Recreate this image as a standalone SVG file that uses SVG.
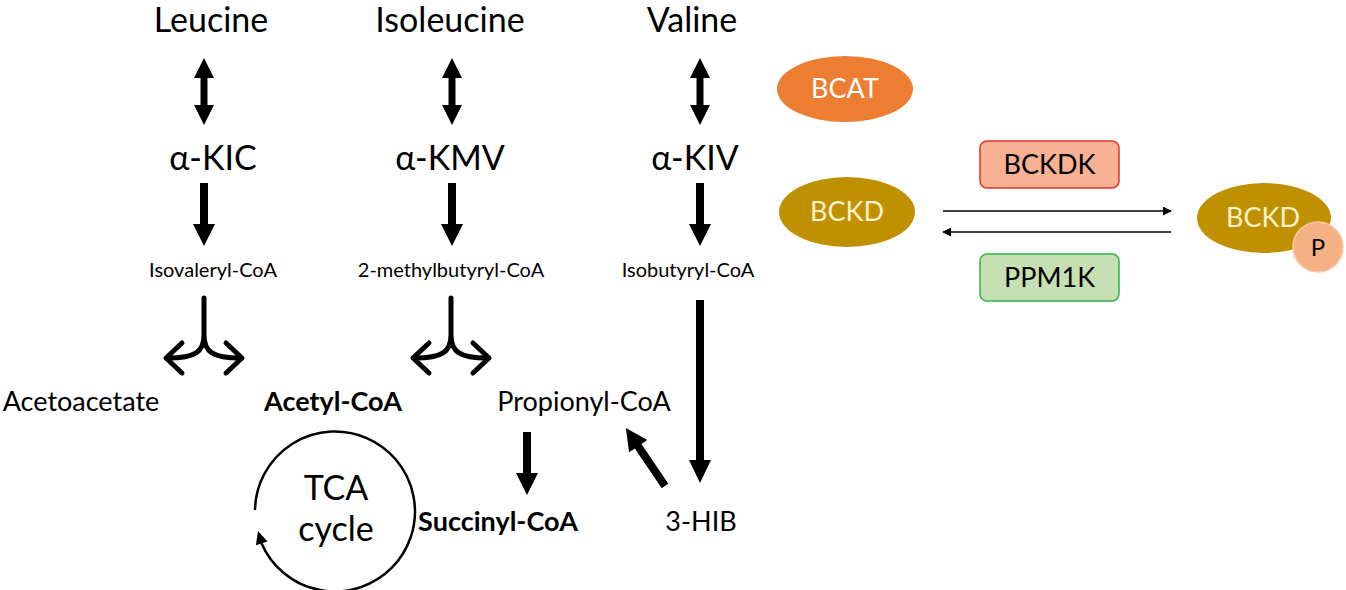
<svg xmlns="http://www.w3.org/2000/svg" width="1346" height="590" viewBox="0 0 1346 590">
<style>
text{font-family:Lato,"Open Sans","Liberation Sans",sans-serif;fill:#000;text-anchor:middle}
.big{font-size:34px}
.sm{font-size:20px}
.mid{font-size:27px}
.b{font-weight:bold}
.enz{font-size:27px}
.blk{fill:#000;stroke:none}
.fork{fill:none;stroke:#000;stroke-width:5;stroke-linecap:round;stroke-linejoin:round}
.thin{fill:none;stroke:#000;stroke-width:1.3}
</style>
<defs>
<polygon id="dbl" points="0,0 10,20 3.5,20 3.5,47 10,47 0,67 -10,47 -3.5,47 -3.5,20 -10,20"/>
<polygon id="down" points="-4,0 4,0 4,41 11,41 0,63 -11,41 -4,41"/>
<marker id="ah" viewBox="0 0 10 10" refX="9" refY="5" markerWidth="9" markerHeight="9" markerUnits="userSpaceOnUse" orient="auto"><path d="M0,0 L10,5 L0,10 z" fill="#000"/></marker>
</defs>
<rect width="1346" height="590" fill="#fff"/>

<g id="leucine"><text class="big" x="211" y="32">Leucine</text></g>
<g id="isoleucine"><text class="big" x="450" y="32">Isoleucine</text></g>
<g id="valine"><text class="big" x="692" y="32">Valine</text></g>
<g id="akic"><text class="big" x="213" y="170">α-KIC</text></g>
<g id="akmv"><text class="big" x="450" y="170">α-KMV</text></g>
<g id="akiv"><text class="big" x="695" y="170">α-KIV</text></g>
<g id="isovaleryl"><text class="sm" x="213" y="277">Isovaleryl-CoA</text></g>
<g id="methylbutyryl"><text class="sm" x="451" y="277">2-methylbutyryl-CoA</text></g>
<g id="isobutyryl"><text class="sm" x="688" y="277">Isobutyryl-CoA</text></g>
<g id="acetoacetate"><text class="mid" x="81" y="411">Acetoacetate</text></g>
<g id="acetylcoa"><text class="mid b" x="333" y="411">Acetyl-CoA</text></g>
<g id="propionylcoa"><text class="mid" x="584" y="411">Propionyl-CoA</text></g>
<g id="succinylcoa"><text class="mid b" x="498" y="531">Succinyl-CoA</text></g>
<g id="hib"><text class="mid" x="701" y="531">3-HIB</text></g>
<g id="tca">
<path class="fork" style="stroke-width:2.5" d="M255,509 A80,80 0 1 1 261.6,543.4"/>
<polygon class="blk" points="258,531 267.5,541.6 255.9,545.2"/>
<text class="big" x="336" y="500">TCA</text>
<text class="big" x="336" y="541">cycle</text>
</g>

<g id="bcat"><ellipse cx="845" cy="89" rx="68" ry="33" fill="#ED7D31"/><text class="enz" x="845" y="98" style="fill:#fff">BCAT</text></g>
<g id="bckd"><ellipse cx="847" cy="212" rx="68" ry="35" fill="#BF9000"/><text class="enz" x="847" y="221" style="fill:#FFF2CC">BCKD</text></g>
<g id="bckdk"><rect x="980" y="141" width="139" height="47" rx="7" fill="#F8B193" stroke="#E5332A" stroke-width="1.5"/><text class="enz" x="1049.5" y="174">BCKDK</text></g>
<g id="ppm1k"><rect x="980" y="254" width="139" height="47" rx="7" fill="#C6E0B4" stroke="#2DB34A" stroke-width="1.5"/><text class="enz" x="1049.5" y="287">PPM1K</text></g>
<g id="bckdp"><ellipse cx="1264" cy="218" rx="67" ry="35" fill="#BF9000"/><text class="enz" x="1263" y="227" style="fill:#FFF2CC">BCKD</text>
<circle cx="1318" cy="247" r="25" fill="#F4B183" stroke="#F8CBAD" stroke-width="1.5"/><text x="1318" y="256" style="font-size:24px">P</text></g>

<g id="connectors">
<use href="#dbl" x="204" y="58"/>
<use href="#dbl" x="452" y="58"/>
<use href="#dbl" x="700" y="58"/>
<use href="#down" x="204" y="183"/>
<use href="#down" x="452" y="183"/>
<use href="#down" x="700" y="183"/>
<polygon class="blk" points="696,300 704,300 704,460 711,460 700,483 689,460 696,460"/>
<use href="#down" x="527" y="432"/>
<polygon class="blk" transform="rotate(-34 665 486)" points="661,486 669,486 669,438 676,438 665,416 654,438 661,438"/>
<path class="fork" d="M204,298 V335 C204,352 195,358 168,358 M204,335 C204,352 213,358 240,358 M182,343 L166,358 L182,373 M226,343 L242,358 L226,373"/>
<path class="fork" d="M451,298 V335 C451,352 442,358 415,358 M451,335 C451,352 460,358 487,358 M429,343 L413,358 L429,373 M473,343 L489,358 L473,373"/>
<line class="thin" x1="943" y1="211" x2="1171" y2="211" marker-end="url(#ah)"/>
<line class="thin" x1="1171" y1="232" x2="943" y2="232" marker-end="url(#ah)"/>
</g>
</svg>
